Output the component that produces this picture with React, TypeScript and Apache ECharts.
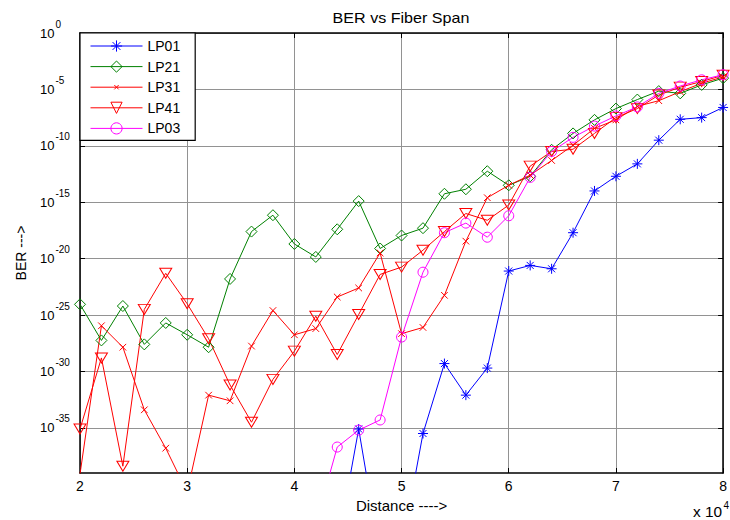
import React, { useEffect, useRef } from 'react';
import * as echarts from 'echarts';

const FONT = '"Liberation Sans", Arial, Helvetica, sans-serif';

// Fiber span distance for each simulated point
const distances = [
  20000, 22000, 24000, 26000, 28000, 30000, 32000, 34000, 36000, 38000, 40000,
  42000, 44000, 46000, 48000, 50000, 52000, 54000, 56000, 58000, 60000,
  62000, 64000, 66000, 68000, 70000, 72000, 74000, 76000, 78000, 80000,
];

// Decades that get a tick / grid line on the BER axis (10^0 ... 10^-35)
const berTickExponents = [0, -5, -10, -15, -20, -25, -30, -35];

// log10(BER) for every mode; null where no value is plotted
const lp01 = [
  null, null, null, null, null, null, null, null, null, null, null, null,
  -45.6, -35.1, -46.3, -45.8, -35.5, -29.3, -32.1, -29.7, -21.1, -20.6,
  -20.9, -17.7, -14.0, -12.7, -11.6, -9.5, -7.65, -7.5, -6.6,
];
const lp21 = [
  -24.05, -27.25, -24.2, -27.6, -25.7, -26.75, -27.85, -21.8, -17.6, -16.15,
  -18.7, -19.85, -17.4, -14.9, -19.1, -17.95, -17.3, -14.25, -13.85, -12.25,
  -13.5, -12.7, -10.35, -8.9, -7.7, -6.7, -5.9, -5.15, -5.35, -4.6, -4.0,
];
const lp31 = [
  -39.1, -25.95, -27.85, -33.4, -36.8, -40.7, -32.1, -32.6, -27.75, -24.6,
  -26.75, -26.2, -23.4, -22.6, -19.5, -26.65, -26.1, -23.25, -18.45, -14.6,
  -13.5, -12.6, -11.3, -9.95, -8.45, -7.7, -6.5, -6.0, -5.2, -4.45, -3.9,
];
const lp41 = [
  -35.1, -28.8, -38.4, -24.5, -21.3, -24.0, -27.1, -31.2, -34.5, -30.7,
  -28.2, -25.1, -28.5, -24.95, -21.4, -20.75, -19.25, -17.6, -16.0, -16.6,
  -15.25, -11.8, -10.5, -10.3, -8.9, -7.5, -6.7, -5.5, -4.8, -4.3, -3.75,
];
const lp03 = [
  null, null, null, null, null, null, null, null, null, null, null,
  -43.5, -36.7, -35.2, -34.3, -26.95, -21.2, -17.7, -16.85, -18.1, -16.2,
  -12.8, -10.5, -9.25, -8.25, -7.35, -6.55, -5.35, -4.7, -4.15, -3.7,
];

// Marker outlines (stroked, unfilled)
const ASTERISK = 'path://M5,0L5,10M0,5L10,5M1.5,1.5L8.5,8.5M1.5,8.5L8.5,1.5';
const CROSS = 'path://M0,0M18,18M5.5,5.5L12.5,12.5M5.5,12.5L12.5,5.5';
const TRIANGLE_DOWN = 'path://M0,0L12,0L6,10Z';

type Mode = {
  name: string;
  values: (number | null)[];
  color: string;
  symbol: string;
  size: number | number[];
};

const modes: Mode[] = [
  { name: 'LP01', values: lp01, color: '#0000ff', symbol: ASTERISK, size: 10 },
  { name: 'LP21', values: lp21, color: '#008000', symbol: 'diamond', size: 11 },
  { name: 'LP31', values: lp31, color: '#ff0000', symbol: CROSS, size: 17 },
  { name: 'LP41', values: lp41, color: '#ff0000', symbol: TRIANGLE_DOWN, size: [12, 10] },
  { name: 'LP03', values: lp03, color: '#ff00ff', symbol: 'circle', size: 10 },
];

const GRID = { left: 80, right: 2, top: 33, bottom: 47 };

export default function App() {
  const ref = useRef<HTMLDivElement>(null);

  useEffect(() => {
    if (!ref.current) return;
    const chart = echarts.init(ref.current, undefined, { renderer: 'svg' });

    const tickStyle = { show: true, inside: true, length: 5, lineStyle: { color: '#000', width: 1 } };
    const axisLine = { show: true, onZero: false, lineStyle: { color: '#000', width: 1.5 } };
    const gridLine = { show: true, lineStyle: { color: '#929292', width: 1, type: 'solid' } };

    chart.setOption({
      animation: false,
      backgroundColor: '#fff',
      textStyle: { fontFamily: FONT },
      grid: { ...GRID, containLabel: false },
      legend: {
        orient: 'vertical',
        left: 80,
        top: 33,
        padding: [6, 15, 5, 10],
        itemWidth: 52,
        itemHeight: 14,
        itemGap: 6.6,
        backgroundColor: '#fff',
        borderColor: '#000',
        borderWidth: 1.2,
        borderRadius: 0,
        lineStyle: { width: 1 },
        itemStyle: { borderWidth: 1 },
        textStyle: { fontFamily: FONT, fontSize: 14, color: '#000' },
        data: modes.map((m) => m.name),
      },
      xAxis: [
        {
          type: 'value',
          min: 20000,
          max: 80000,
          interval: 10000,
          name: 'Distance ---->',
          nameLocation: 'middle',
          nameGap: 25,
          nameTextStyle: { fontFamily: FONT, fontSize: 15, color: '#000' },
          axisLine,
          axisTick: tickStyle,
          splitLine: gridLine,
          axisLabel: {
            margin: 6,
            fontFamily: FONT,
            fontSize: 14,
            color: '#000',
            formatter: (v: number) => String(v / 10000),
          },
        },
        {
          type: 'value',
          position: 'top',
          min: 20000,
          max: 80000,
          interval: 10000,
          axisLine,
          axisTick: tickStyle,
          axisLabel: { show: false },
          splitLine: { show: false },
        },
      ],
      yAxis: [
        {
          type: 'value',
          min: -39,
          max: 0,
          name: 'BER --->',
          nameLocation: 'middle',
          nameRotate: 90,
          nameGap: 52,
          nameTextStyle: { fontFamily: FONT, fontSize: 14, color: '#000' },
          axisLine,
          axisTick: { ...tickStyle, customValues: berTickExponents },
          splitLine: gridLine,
          axisLabel: {
            customValues: berTickExponents,
            align: 'left',
            margin: 40,
            formatter: (v: number) => `{b|10}{s|${Math.round(v)}}`,
            rich: {
              b: { fontFamily: FONT, fontSize: 13, color: '#000' },
              s: { fontFamily: FONT, fontSize: 10, color: '#000', padding: [0, 0, 18, 1] },
            },
          },
        },
        {
          type: 'value',
          position: 'right',
          min: -39,
          max: 0,
          axisLine,
          axisTick: { ...tickStyle, customValues: berTickExponents },
          axisLabel: { show: false },
          splitLine: { show: false },
        },
      ],
      graphic: [
        {
          type: 'text',
          x: 401,
          y: 18,
          scaleX: 1.15,
          silent: true,
          style: {
            text: 'BER vs Fiber Span',
            fontFamily: FONT,
            fontSize: 14,
            fill: '#000',
            align: 'center',
            verticalAlign: 'middle',
          },
        },
        {
          type: 'text',
          x: 722,
          y: 512.5,
          scaleX: 1.1,
          silent: true,
          style: {
            text: 'x 10',
            fontFamily: FONT,
            fontSize: 14,
            fill: '#000',
            align: 'right',
            verticalAlign: 'middle',
          },
        },
        {
          type: 'text',
          x: 723.5,
          y: 505,
          silent: true,
          style: {
            text: '4',
            fontFamily: FONT,
            fontSize: 10,
            fill: '#000',
            align: 'left',
            verticalAlign: 'middle',
          },
        },
      ],
      series: modes.map((m) => ({
        name: m.name,
        type: 'line',
        xAxisIndex: 0,
        yAxisIndex: 0,
        data: distances.map((d, i) => [d, m.values[i]]),
        connectNulls: false,
        clip: true,
        symbol: m.symbol,
        symbolSize: m.size,
        showAllSymbol: true,
        lineStyle: { color: m.color, width: 1 },
        itemStyle: { color: 'transparent', borderColor: m.color, borderWidth: 1 },
        emphasis: { disabled: true },
      })),
    });

    return () => chart.dispose();
  }, []);

  return (
    <div
      ref={ref}
      style={{ position: 'fixed', left: 0, top: 0, width: 730, height: 520, background: '#fff' }}
    />
  );
}
